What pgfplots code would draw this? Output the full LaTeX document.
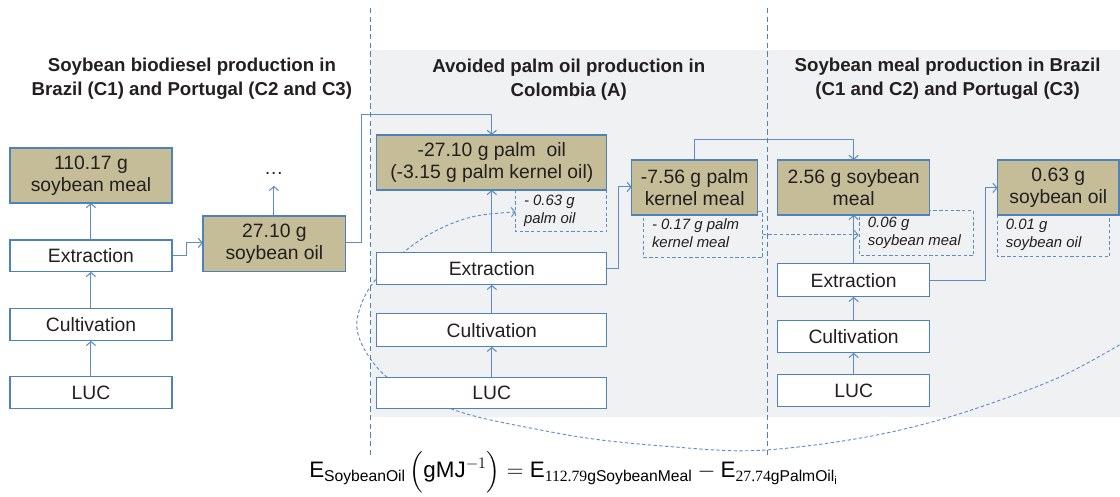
\documentclass[border=0pt]{standalone}
\usepackage{pgfplots}
\pgfplotsset{compat=1.18}
\usepackage{amsmath}
\usepackage{fontspec}
\setmainfont{Liberation Sans}
\newfontfamily\serifnum{Liberation Serif}
\usetikzlibrary{arrows.meta}
\definecolor{tanc}{RGB}{196,189,151}
\definecolor{bord}{RGB}{79,129,189}
\definecolor{lin}{RGB}{95,140,200}
\definecolor{bgc}{RGB}{240,241,243}
\definecolor{txt}{RGB}{35,31,32}
\newcommand{\tanbox}[5]{%
  \draw[bord, line width=0.9pt, fill=tanc] (axis cs:#1,#2) rectangle (axis cs:#3,#4);
  \node[align=center, text=txt, font=\fontsize{14.5}{16.5}\selectfont] at (axis cs:{(#1+#3)/2},{(#2+#4)/2}) {#5};}
\newcommand{\whbox}[5]{%
  \draw[bord, line width=0.9pt, fill=white] (axis cs:#1,#2) rectangle (axis cs:#3,#4);
  \node[align=center, text=txt, font=\fontsize{14.5}{16.5}\selectfont] at (axis cs:{(#1+#3)/2},{(#2+#4)/2}) {#5};}
\begin{document}
\begin{tikzpicture}[>={Straight Barb[length=3pt,width=7pt]}]
\begin{axis}[scale only axis, width=840pt, height=371.25pt,
  xmin=0, xmax=1120, ymin=0, ymax=495, y dir=reverse,
  hide axis, clip=false]
% frame and background
\path (axis cs:0,0) rectangle (axis cs:1120,495);
\fill[bgc] (axis cs:371,50) rectangle (axis cs:1120,417);
% titles
\node[align=center, text=txt, font=\fontsize{14}{18}\selectfont\bfseries] at (axis cs:192,79) {Soybean biodiesel production in\\Brazil (C1) and Portugal (C2 and C3)};
\node[align=center, text=txt, font=\fontsize{14}{18}\selectfont\bfseries] at (axis cs:569,80) {Avoided palm oil production in\\Colombia (A)};
\node[align=center, text=txt, font=\fontsize{14}{18}\selectfont\bfseries] at (axis cs:948,79) {Soybean meal production in Brazil\\(C1 and C2) and Portugal (C3)};
% dashed boxes (under tan boxes)
\draw[lin, line width=0.7pt, dash pattern=on 2.5pt off 1.8pt] (axis cs:516,190) rectangle (axis cs:607,232);
\node[anchor=north west, align=left, text=txt, inner sep=0pt, font=\fontsize{11.2}{13.5}\selectfont\itshape] at (axis cs:524,195) {- 0.63 g\\palm oil};
\draw[lin, line width=0.7pt, dash pattern=on 2.5pt off 1.8pt] (axis cs:644,212) rectangle (axis cs:763,258);
\node[anchor=north west, align=left, text=txt, inner sep=0pt, font=\fontsize{11.2}{13.5}\selectfont\itshape] at (axis cs:652,219) {- 0.17 g palm\\kernel meal};
\draw[lin, line width=0.7pt, dash pattern=on 2.5pt off 1.8pt] (axis cs:860,211) rectangle (axis cs:974,256);
\node[anchor=north west, align=left, text=txt, inner sep=0pt, font=\fontsize{11.2}{13.5}\selectfont\itshape] at (axis cs:868,217) {0.06 g\\soybean meal};
\draw[lin, line width=0.7pt, dash pattern=on 2.5pt off 1.8pt] (axis cs:998,215) rectangle (axis cs:1110,257);
\node[anchor=north west, align=left, text=txt, inner sep=0pt, font=\fontsize{11.2}{13.5}\selectfont\itshape] at (axis cs:1006,219) {0.01 g\\soybean oil};
% connector lines
\draw[lin, line width=0.8pt, ->] (axis cs:91,240) -- (axis cs:91,203);
\draw[lin, line width=0.8pt, ->] (axis cs:91,309) -- (axis cs:91,272);
\draw[lin, line width=0.8pt, ->] (axis cs:91,377) -- (axis cs:91,341);
\draw[lin, line width=0.8pt, ->] (axis cs:172,256) -- (axis cs:187,256) -- (axis cs:187,243) -- (axis cs:203,243);
\draw[lin, line width=0.8pt, ->] (axis cs:274,217) -- (axis cs:274,186);
\draw[lin, line width=0.8pt, ->] (axis cs:346,243) -- (axis cs:362,243) -- (axis cs:362,115) -- (axis cs:492,115) -- (axis cs:492,135);
\draw[lin, line width=0.8pt, ->] (axis cs:492,253) -- (axis cs:492,190);
\draw[lin, line width=0.8pt, ->] (axis cs:492,314) -- (axis cs:492,285);
\draw[lin, line width=0.8pt, ->] (axis cs:492,378) -- (axis cs:492,347);
\draw[lin, line width=0.8pt, ->] (axis cs:607,269) -- (axis cs:619,269) -- (axis cs:619,187) -- (axis cs:632,187);
\draw[lin, line width=0.8pt, ->] (axis cs:695,160) -- (axis cs:695,140) -- (axis cs:854,140) -- (axis cs:854,160);
\draw[lin, line width=0.8pt, ->] (axis cs:854,264) -- (axis cs:854,215);
\draw[lin, line width=0.8pt, ->] (axis cs:854,321) -- (axis cs:854,297);
\draw[lin, line width=0.8pt, ->] (axis cs:854,375) -- (axis cs:854,353);
\draw[lin, line width=0.8pt, ->] (axis cs:930,281) -- (axis cs:986,281) -- (axis cs:986,188) -- (axis cs:998,188);
\draw[lin, line width=0.7pt, dash pattern=on 2.5pt off 1.8pt, ->] (axis cs:763,235) -- (axis cs:859,235);
% big dashed curve
\addplot[lin, line width=0.7pt, dash pattern=on 2.5pt off 1.8pt, smooth, tension=0.6, -{Straight Barb[length=3pt,width=7pt]}] coordinates {
(1120,345) (1065,375) (1007,398) (940,420) (873,436) (800,447) (740,451) (673,447) (600,440) (540,430) (470,415) (423,397) (388,378) (366,352) (357,327) (362,303) (374,282) (398,257) (432,233) (472,217) (516,212)};
% tan boxes
\tanbox{10}{148}{172}{203}{110.17 g\\soybean meal}
\tanbox{203}{216}{346}{272}{27.10 g\\soybean oil}
\tanbox{377}{135}{607}{190}{-27.10 g palm\ \ oil\\(-3.15 g palm kernel oil)}
\tanbox{632}{160}{758}{215}{-7.56 g palm\\kernel meal}
\tanbox{778}{160}{930}{215}{2.56 g soybean\\meal}
\tanbox{998}{160}{1119.5}{215}{0.63 g\\soybean oil}
% white boxes
\whbox{10}{240}{172}{272}{Extraction}
\whbox{10}{309}{172}{341}{Cultivation}
\whbox{10}{377}{172}{409}{LUC}
\whbox{377}{253}{607}{285}{Extraction}
\whbox{377}{314}{607}{347}{Cultivation}
\whbox{377}{378}{607}{409}{LUC}
\whbox{778}{264}{930}{297}{Extraction}
\whbox{778}{321}{930}{353}{Cultivation}
\whbox{778}{375}{930}{407}{LUC}
\node[text=txt, font=\fontsize{14.5}{16.5}\selectfont] at (axis cs:274,174) {\dots};
% vertical dashed separators
\draw[bord, line width=0.8pt, dash pattern=on 4pt off 2.5pt] (axis cs:371,8) -- (axis cs:371,455);
\draw[bord, line width=0.8pt, dash pattern=on 4pt off 2.5pt] (axis cs:768,8) -- (axis cs:768,455);
% equation
\node[text=black, font=\fontsize{16.8}{20}\selectfont] at (axis cs:574,472) {$\text{E}_{\text{SoybeanOil}}\,\Bigl(\text{gMJ}^{-1}\Bigr)=\text{E}_{\text{\serifnum 112.79}\text{gSoybeanMeal}}-\text{E}_{\text{\serifnum 27.74}\text{gPalmOil}_{\text{i}}}$};
\end{axis}
\end{tikzpicture}
\end{document}
